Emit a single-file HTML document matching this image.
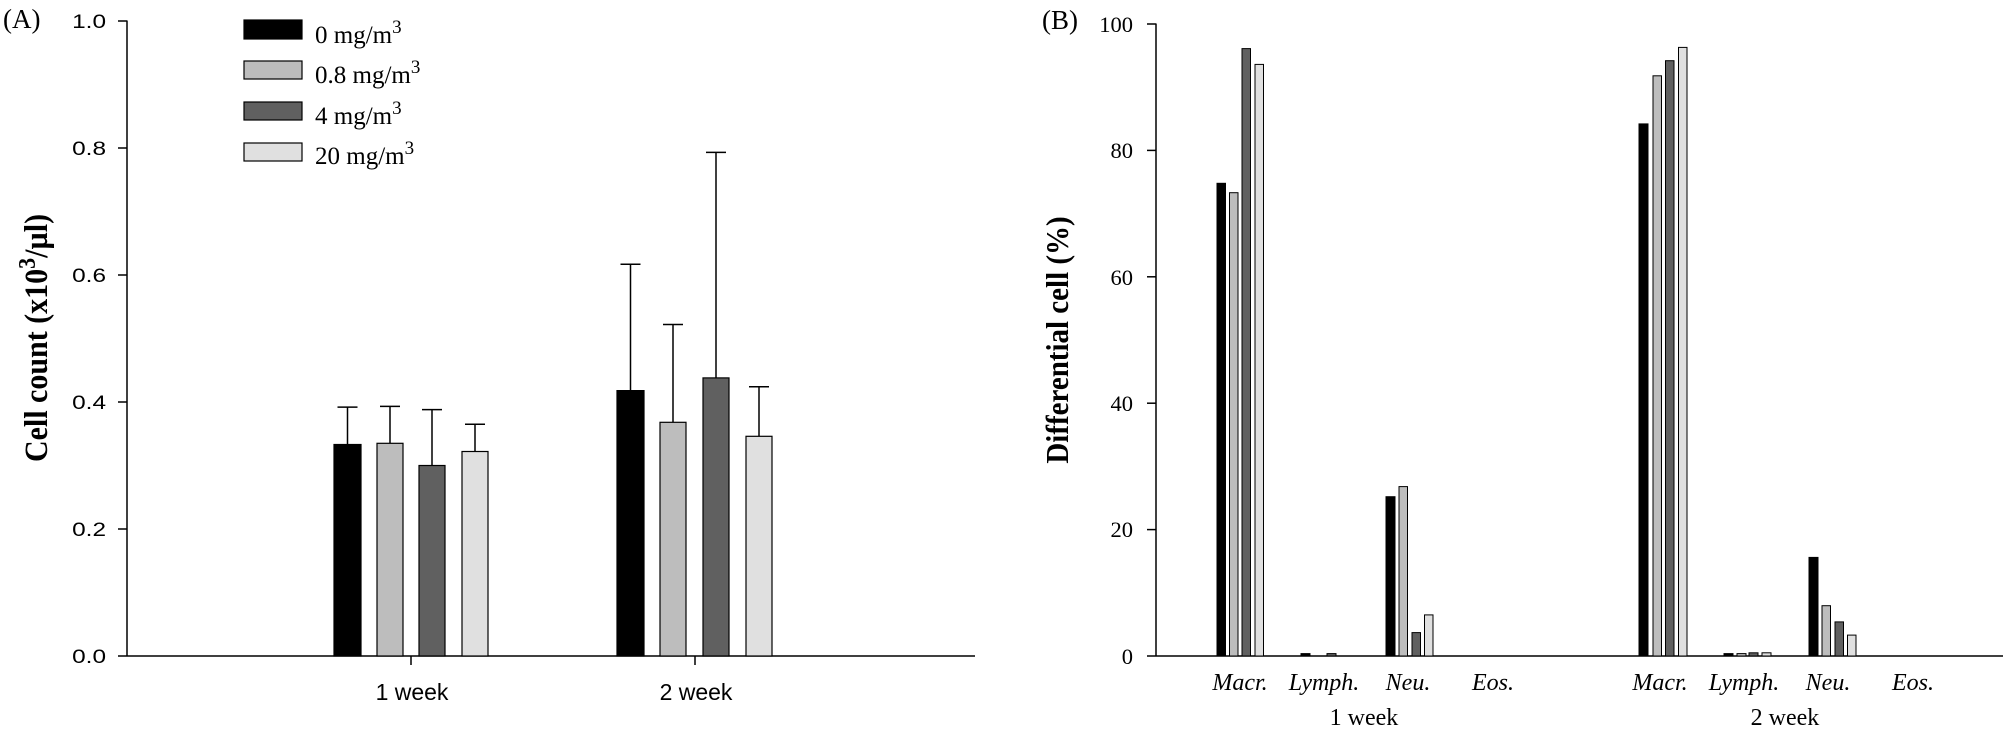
<!DOCTYPE html>
<html><head><meta charset="utf-8"><style>body{margin:0;background:#fff}svg{display:block}</style></head>
<body>
<svg width="2007" height="729" viewBox="0 0 2007 729" xmlns="http://www.w3.org/2000/svg">
<rect width="2007" height="729" fill="#fff"/>
<!-- Panel A -->
<text x="3" y="28" font-family="Liberation Serif, serif" font-size="27">(A)</text>
<g stroke="#000" stroke-width="1.5" fill="none">
<line x1="127" y1="20.5" x2="127" y2="656"/>
<line x1="127" y1="656" x2="975" y2="656"/>
<line x1="118" y1="21" x2="127" y2="21"/>
<line x1="118" y1="148" x2="127" y2="148"/>
<line x1="118" y1="275" x2="127" y2="275"/>
<line x1="118" y1="402" x2="127" y2="402"/>
<line x1="118" y1="529" x2="127" y2="529"/>
<line x1="118" y1="656" x2="127" y2="656"/>
<line x1="411" y1="656" x2="411" y2="665"/>
<line x1="695" y1="656" x2="695" y2="665"/>
</g>
<g font-family="Liberation Sans, sans-serif" font-size="19.5" text-anchor="end">
<text transform="translate(106,28) scale(1.25,1)">1.0</text>
<text transform="translate(106,155) scale(1.25,1)">0.8</text>
<text transform="translate(106,282) scale(1.25,1)">0.6</text>
<text transform="translate(106,409) scale(1.25,1)">0.4</text>
<text transform="translate(106,536) scale(1.25,1)">0.2</text>
<text transform="translate(106,663) scale(1.25,1)">0.0</text>
</g>
<g font-family="Liberation Sans, sans-serif" font-size="23" text-anchor="middle">
<text x="412" y="700">1 week</text>
<text x="696" y="700">2 week</text>
</g>
<text transform="translate(47,338) rotate(-90) scale(1,1.1)" font-family="Liberation Serif, serif" font-weight="bold" font-size="30" text-anchor="middle">Cell count (x10<tspan dy="-11" font-size="22">3</tspan><tspan dy="11">/µl)</tspan></text>
<!-- bars A: y = 656 - v*635 -->
<g stroke="#000" stroke-width="1.2">
<rect x="334" y="444.5" width="27" height="211.5" fill="#000"/>
<rect x="377" y="443.3" width="26" height="212.7" fill="#bdbdbd"/>
<rect x="419" y="465.5" width="26" height="190.5" fill="#606060"/>
<rect x="462" y="451.5" width="26" height="204.5" fill="#e0e0e0"/>
<rect x="617" y="390.6" width="27" height="265.4" fill="#000"/>
<rect x="660" y="422.3" width="26" height="233.7" fill="#bdbdbd"/>
<rect x="703" y="377.9" width="26" height="278.1" fill="#606060"/>
<rect x="746" y="436.3" width="26" height="219.7" fill="#e0e0e0"/>
</g>
<g stroke="#000" stroke-width="1.5">
<path d="M347.5 444.5V407.1M337.5 407.1H357.5"/>
<path d="M390 443.3V406.4M380 406.4H400"/>
<path d="M432 465.5V409.6M422 409.6H442"/>
<path d="M475 451.5V424.2M465 424.2H485"/>
<path d="M630.5 390.6V264.2M620.5 264.2H640.5"/>
<path d="M673 422.3V324.5M663 324.5H683"/>
<path d="M716 377.9V152.4M706 152.4H726"/>
<path d="M759 436.3V386.8M749 386.8H769"/>
</g>
<!-- legend -->
<g stroke="#000" stroke-width="1.2">
<rect x="244" y="20" width="58" height="19" fill="#000"/>
<rect x="244" y="61" width="58" height="18" fill="#bdbdbd"/>
<rect x="244" y="102" width="58" height="18" fill="#606060"/>
<rect x="244" y="143" width="58" height="18" fill="#e0e0e0"/>
</g>
<g font-family="Liberation Serif, serif" font-size="25">
<text x="315" y="43">0 mg/m<tspan dy="-10" font-size="19">3</tspan></text>
<text x="315" y="83">0.8 mg/m<tspan dy="-10" font-size="19">3</tspan></text>
<text x="315" y="124">4 mg/m<tspan dy="-10" font-size="19">3</tspan></text>
<text x="315" y="164">20 mg/m<tspan dy="-10" font-size="19">3</tspan></text>
</g>
<!-- Panel B -->
<text x="1042" y="29" font-family="Liberation Serif, serif" font-size="27">(B)</text>
<g stroke="#000" stroke-width="1.5" fill="none">
<line x1="1156" y1="23.5" x2="1156" y2="656"/>
<line x1="1156" y1="656" x2="2003" y2="656"/>
<line x1="1147" y1="24" x2="1156" y2="24"/>
<line x1="1147" y1="150.4" x2="1156" y2="150.4"/>
<line x1="1147" y1="276.8" x2="1156" y2="276.8"/>
<line x1="1147" y1="403.2" x2="1156" y2="403.2"/>
<line x1="1147" y1="529.6" x2="1156" y2="529.6"/>
<line x1="1147" y1="656" x2="1156" y2="656"/>
</g>
<g font-family="Liberation Serif, serif" font-size="22.5" text-anchor="end">
<text x="1133" y="32">100</text>
<text x="1133" y="158">80</text>
<text x="1133" y="285">60</text>
<text x="1133" y="411">40</text>
<text x="1133" y="537">20</text>
<text x="1133" y="664">0</text>
</g>
<text transform="translate(1068,340) rotate(-90) scale(1,1.1)" font-family="Liberation Serif, serif" font-weight="bold" font-size="29" text-anchor="middle">Differential cell (%)</text>
<g font-family="Liberation Serif, serif" font-style="italic" font-size="24" text-anchor="middle">
<text x="1240" y="690">Macr.</text>
<text x="1324" y="690">Lymph.</text>
<text x="1408" y="690">Neu.</text>
<text x="1493" y="690">Eos.</text>
<text x="1660" y="690">Macr.</text>
<text x="1744" y="690">Lymph.</text>
<text x="1828" y="690">Neu.</text>
<text x="1913" y="690">Eos.</text>
</g>
<g font-family="Liberation Serif, serif" font-size="24" text-anchor="middle">
<text x="1364" y="725">1 week</text>
<text x="1785" y="725">2 week</text>
</g>
<!-- bars B: y = 656 - v*6.32 -->
<g stroke="#000" stroke-width="1">
<rect x="1217" y="183.3" width="8.5" height="472.7" fill="#000"/>
<rect x="1229.5" y="192.7" width="8.5" height="463.3" fill="#bdbdbd"/>
<rect x="1242" y="48.6" width="8.5" height="607.4" fill="#606060"/>
<rect x="1255" y="64.4" width="8.5" height="591.6" fill="#e0e0e0"/>
<rect x="1301" y="653.6" width="9" height="2.4" fill="#000"/>
<rect x="1327" y="653.6" width="9" height="2.4" fill="#606060"/>
<rect x="1386" y="496.7" width="9" height="159.3" fill="#000"/>
<rect x="1399" y="486.6" width="8.5" height="169.4" fill="#bdbdbd"/>
<rect x="1412" y="632.6" width="8.5" height="23.4" fill="#606060"/>
<rect x="1424.5" y="614.9" width="8.5" height="41.1" fill="#e0e0e0"/>
<rect x="1639" y="123.9" width="9" height="532.1" fill="#000"/>
<rect x="1653" y="75.8" width="8.5" height="580.2" fill="#bdbdbd"/>
<rect x="1665.5" y="60.7" width="8.5" height="595.3" fill="#606060"/>
<rect x="1678.5" y="47.4" width="8.5" height="608.6" fill="#e0e0e0"/>
<rect x="1724" y="653.6" width="9" height="2.4" fill="#000"/>
<rect x="1737" y="653.6" width="9" height="2.4" fill="#bdbdbd"/>
<rect x="1749" y="652.8" width="9" height="3.2" fill="#606060"/>
<rect x="1762" y="652.8" width="9" height="3.2" fill="#e0e0e0"/>
<rect x="1809" y="557.4" width="9" height="98.6" fill="#000"/>
<rect x="1822" y="605.7" width="8.5" height="50.3" fill="#bdbdbd"/>
<rect x="1835" y="621.9" width="8.5" height="34.1" fill="#606060"/>
<rect x="1847.5" y="635.1" width="8.5" height="20.9" fill="#e0e0e0"/>
</g>
</svg>
</body></html>
